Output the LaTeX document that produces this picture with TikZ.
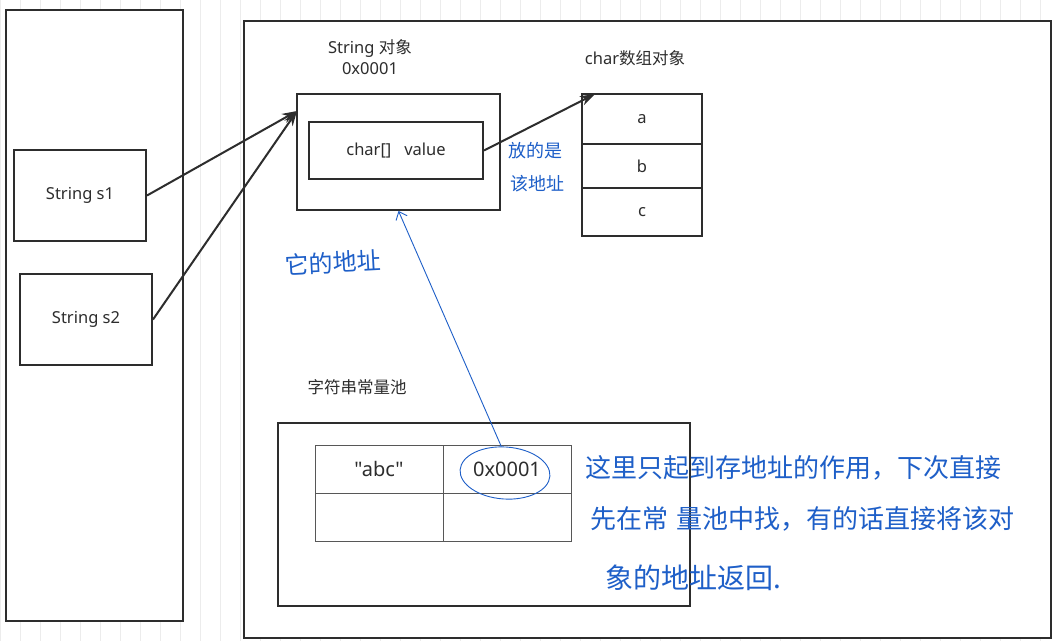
\documentclass[tikz,border=0pt]{standalone}
\usepackage{fontspec}
\setmainfont{Noto Sans}
\newfontfamily\cjk{Noto Sans CJK SC}
\newfontfamily\plainsans{Noto Sans}
\usetikzlibrary{arrows.meta,shapes.geometric}
\definecolor{ink}{RGB}{45,45,45}
\definecolor{pen}{RGB}{30,95,200}
\definecolor{gridc}{RGB}{236,236,236}
\begin{document}
\begin{tikzpicture}[x=1pt,y=-1pt,
  box/.style={draw=ink,line width=2pt,fill=white,inner sep=0pt},
  cellbox/.style={draw=ink!80,line width=1pt,inner sep=0pt,minimum width=128pt,minimum height=48pt,font=\plainsans\fontsize{20}{24}\selectfont,text=ink},
  lbl/.style={font=\fontsize{16.5}{21}\selectfont,text=ink,align=center,inner sep=0pt},
  hand/.style={text=pen,anchor=west,inner sep=0pt},
  arr/.style={draw=ink,line width=2pt,-{Stealth[length=15pt,width=10pt]}},
  penline/.style={draw=pen,line width=0.9pt},
]
\useasboundingbox (0,0) rectangle (1059,640);
\fill[white] (0,0) rectangle (1059,640);
\draw[gridc,line width=0.6pt,shift={(0,5)}] (0,-5) grid[step=20] (1059,640);

% stack side
\node[box,minimum width=177pt,minimum height=611pt] (stack) at (94.5,315.5) {};
\node[box,minimum width=132pt,minimum height=91pt,lbl] (s1) at (80,195.5) {String s1};
\node[box,minimum width=132pt,minimum height=91pt,lbl] (s2) at (86,319.5) {String s2};

% heap side
\node[box,minimum width=807pt,minimum height=617pt] (heap) at (647.5,329.5) {};
\node[lbl] (strlbl) at (370,57) {String {\cjk 对象}\\0x0001};
\node[box,minimum width=203pt,minimum height=116pt] (strobj) at (398.5,152) {};
\node[box,minimum width=174pt,minimum height=57pt,lbl] (val) at (396,150.5) {char[]\ \ \ value};

\node[lbl] (arrlbl) at (635,58) {char{\cjk 数组对象}};
\node[box,minimum width=120pt,minimum height=50pt,lbl] (ca) at (642,119) {a};
\node[box,minimum width=120pt,minimum height=44pt,lbl] (cb) at (642,166) {b};
\node[box,minimum width=120pt,minimum height=48pt,lbl] (cc) at (642,212) {c};

% string constant pool
\node[lbl,font=\cjk\fontsize{16.5}{21}\selectfont] (poollbl) at (357,387) {字符串常量池};
\node[box,minimum width=412pt,minimum height=183pt] (pool) at (484,514.5) {};
\node[cellbox] (c11) at (379,469) {"abc"};
\node[cellbox] (c12) at (507,469) {0x0001};
\node[cellbox] (c21) at (379,517) {};
\node[cellbox] (c22) at (507,517) {};

% connectors
\coordinate (inS) at (297,111);
\coordinate (inA) at (595,94);
\draw[arr] (s1.east) -- (inS);
\draw[arr] (s2.east) -- (inS);
\draw[arr] (val.east) -- (inA);

% handwritten annotations
\node[ellipse,penline,minimum width=90pt,minimum height=52pt,rotate=-4] (ell) at (505,473) {};
\draw[penline,-{Straight Barb[length=7pt,width=12pt]}] (ell.102) -- (strobj.south);

\node[hand,font=\cjk\fontsize{24}{28}\selectfont,rotate=3] (t1) at (285,265) {它的地址};
\node[hand,font=\cjk\fontsize{18}{22}\selectfont] (t2) at (508,151) {放的是};
\node[hand,font=\cjk\fontsize{18}{22}\selectfont] (t3) at (510,184) {该地址};
\node[hand,font=\cjk\fontsize{26}{30}\selectfont] (t4) at (585,468) {这里只起到存地址的作用，下次直接};
\node[hand,font=\cjk\fontsize{26}{30}\selectfont] (t5) at (590,519) {先在常\hspace{8pt}量池中找，有的话直接将该对};
\node[hand,font=\cjk\fontsize{28}{32}\selectfont] (t6) at (605,578) {象的地址返回.};
\end{tikzpicture}
\end{document}
